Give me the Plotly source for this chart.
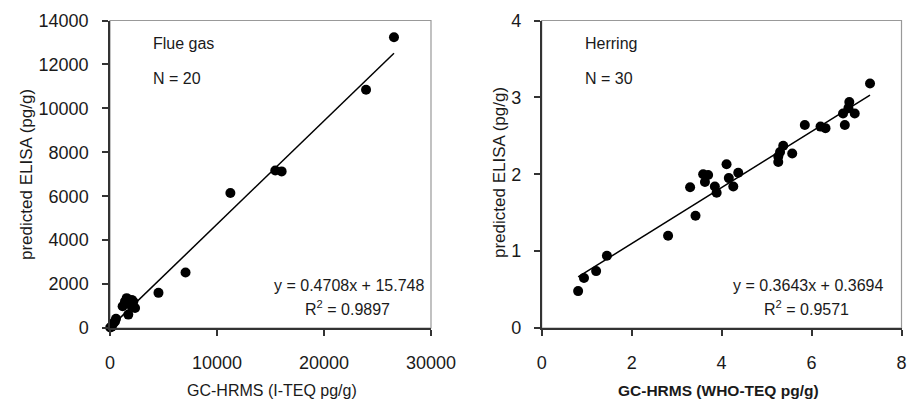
import plotly.graph_objects as go

W, H = 907, 400

# ---- data: Flue gas ----
flue_x = [26540, 23930, 15450, 16040, 11250, 7060, 4530, 1560, 2180, 1180,
          1710, 2340, 1400, 2030, 470, 310, 160, 20, 560, 2000]
flue_y = [13240, 10850, 7170, 7130, 6150, 2530, 1600, 1360, 1210, 990,
          610, 910, 1200, 1280, 300, 210, 60, 20, 420, 1000]
flue_slope, flue_icpt = 0.4708, 15.748
flue_eq = "y = 0.4708x + 15.748"
flue_r2 = "R<sup>2</sup> = 0.9897"

# ---- data: Herring ----
her_x = [7.30, 6.84, 6.96, 6.70, 6.74, 6.82, 6.20, 6.31, 5.85, 5.57,
         5.37, 5.30, 5.26, 5.26, 4.37, 4.11, 4.16, 4.26, 3.85, 3.89,
         3.59, 3.70, 3.63, 3.30, 3.42, 2.81, 1.45, 1.21, 0.94, 0.81]
her_y = [3.18, 2.94, 2.79, 2.79, 2.64, 2.86, 2.62, 2.60, 2.64, 2.27,
         2.37, 2.29, 2.23, 2.16, 2.02, 2.13, 1.95, 1.84, 1.84, 1.76,
         2.00, 1.99, 1.90, 1.83, 1.46, 1.20, 0.94, 0.74, 0.65, 0.48]
her_slope, her_icpt = 0.3643, 0.3694
her_eq = "y = 0.3643x + 0.3694"
her_r2 = "R<sup>2</sup> = 0.9571"

left_ticks_x = [0, 10000, 20000, 30000]
left_ticks_y = [0, 2000, 4000, 6000, 8000, 10000, 12000, 14000]
right_ticks_x = [0, 2, 4, 6, 8]
right_ticks_y = [0, 1, 2, 3, 4]

FONT = "Liberation Sans, Arial, sans-serif"
TXT = "#1a1a1a"

def px(x):
    return x / W

def py(y):
    return 1 - y / H

fig = go.Figure()

# flue gas
fig.add_trace(go.Scatter(x=flue_x, y=flue_y, mode="markers",
                         marker=dict(color="black", size=10), xaxis="x", yaxis="y",
                         showlegend=False, cliponaxis=False))
fx = [min(flue_x), max(flue_x)]
fig.add_trace(go.Scatter(x=fx, y=[flue_slope * v + flue_icpt for v in fx], mode="lines",
                         line=dict(color="black", width=1.5), xaxis="x", yaxis="y",
                         showlegend=False))
# herring
fig.add_trace(go.Scatter(x=her_x, y=her_y, mode="markers",
                         marker=dict(color="black", size=10), xaxis="x2", yaxis="y2",
                         showlegend=False))
hx = [min(her_x), max(her_x)]
fig.add_trace(go.Scatter(x=hx, y=[her_slope * v + her_icpt for v in hx], mode="lines",
                         line=dict(color="black", width=1.5), xaxis="x2", yaxis="y2",
                         showlegend=False))

ydom = [py(328), py(20.5)]
axis_common = dict(showgrid=False, zeroline=False, showline=True, linecolor="#333333",
                   linewidth=1.5, ticks="outside", ticklen=6, tickcolor="#333333",
                   tickwidth=1.5, automargin=False,
                   tickfont=dict(family=FONT, size=18, color=TXT))

def lbl(vals):
    return [str(v) for v in vals]

fig.update_layout(
    width=W, height=H, margin=dict(l=0, r=0, t=0, b=0),
    paper_bgcolor="white", plot_bgcolor="white",
    xaxis=dict(domain=[px(110), px(431)], range=[0, 30000], tickvals=left_ticks_x,
               ticktext=lbl(left_ticks_x),
               anchor="y", ticklabelstandoff=12, **axis_common),
    yaxis=dict(domain=ydom, range=[0, 14000], tickvals=left_ticks_y,
               ticktext=lbl(left_ticks_y),
               anchor="x", ticklabelstandoff=10, **axis_common),
    xaxis2=dict(domain=[px(541.7), px(901.5)], range=[0, 8], tickvals=right_ticks_x,
                ticktext=lbl(right_ticks_x),
                anchor="y2", ticklabelstandoff=12, **axis_common),
    yaxis2=dict(domain=ydom, range=[0, 4], tickvals=right_ticks_y,
                ticktext=lbl(right_ticks_y),
                anchor="x2", ticklabelstandoff=9, **axis_common),
)

# grey frames
for xr, yr in (("x domain", "y domain"), ("x2 domain", "y2 domain")):
    fig.add_shape(type="rect", xref=xr, yref=yr, x0=0, x1=1, y0=0, y1=1,
                  line=dict(color="#999999", width=1.2), layer="below")

ann = []
def txt(x, y, s, size=16, xanchor="left", bold=False, angle=0):
    ann.append(dict(x=px(x), y=py(y), xref="paper", yref="paper", text=s,
                    showarrow=False, xanchor=xanchor, yanchor="middle", textangle=angle,
                    font=dict(family=FONT, size=size, color=TXT,
                              weight="bold" if bold else "normal")))

# inner labels (y given as cap centre)
txt(150.7, 44, "Flue gas")
txt(150.7, 78, "N = 20")
txt(583.3, 44, "Herring")
txt(583.3, 78, "N = 30")
txt(348.5, 285.5, flue_eq, xanchor="center")
txt(347.5, 308, flue_r2, xanchor="center")
txt(807.5, 285, her_eq, xanchor="center")
txt(806.7, 308, her_r2, xanchor="center")
# axis titles
txt(26, 175, "predicted ELISA (pg/g)", size=17, xanchor="center", angle=-90)
txt(499, 173, "predicted ELISA (pg/g)", size=17, xanchor="center", angle=-90)
txt(271.7, 390, "GC-HRMS (I-TEQ pg/g)", size=16, xanchor="center")
txt(718, 390, "GC-HRMS (WHO-TEQ pg/g)", size=15.5, xanchor="center", bold=True)

fig.update_layout(annotations=ann)
fig.write_html("out.html")
